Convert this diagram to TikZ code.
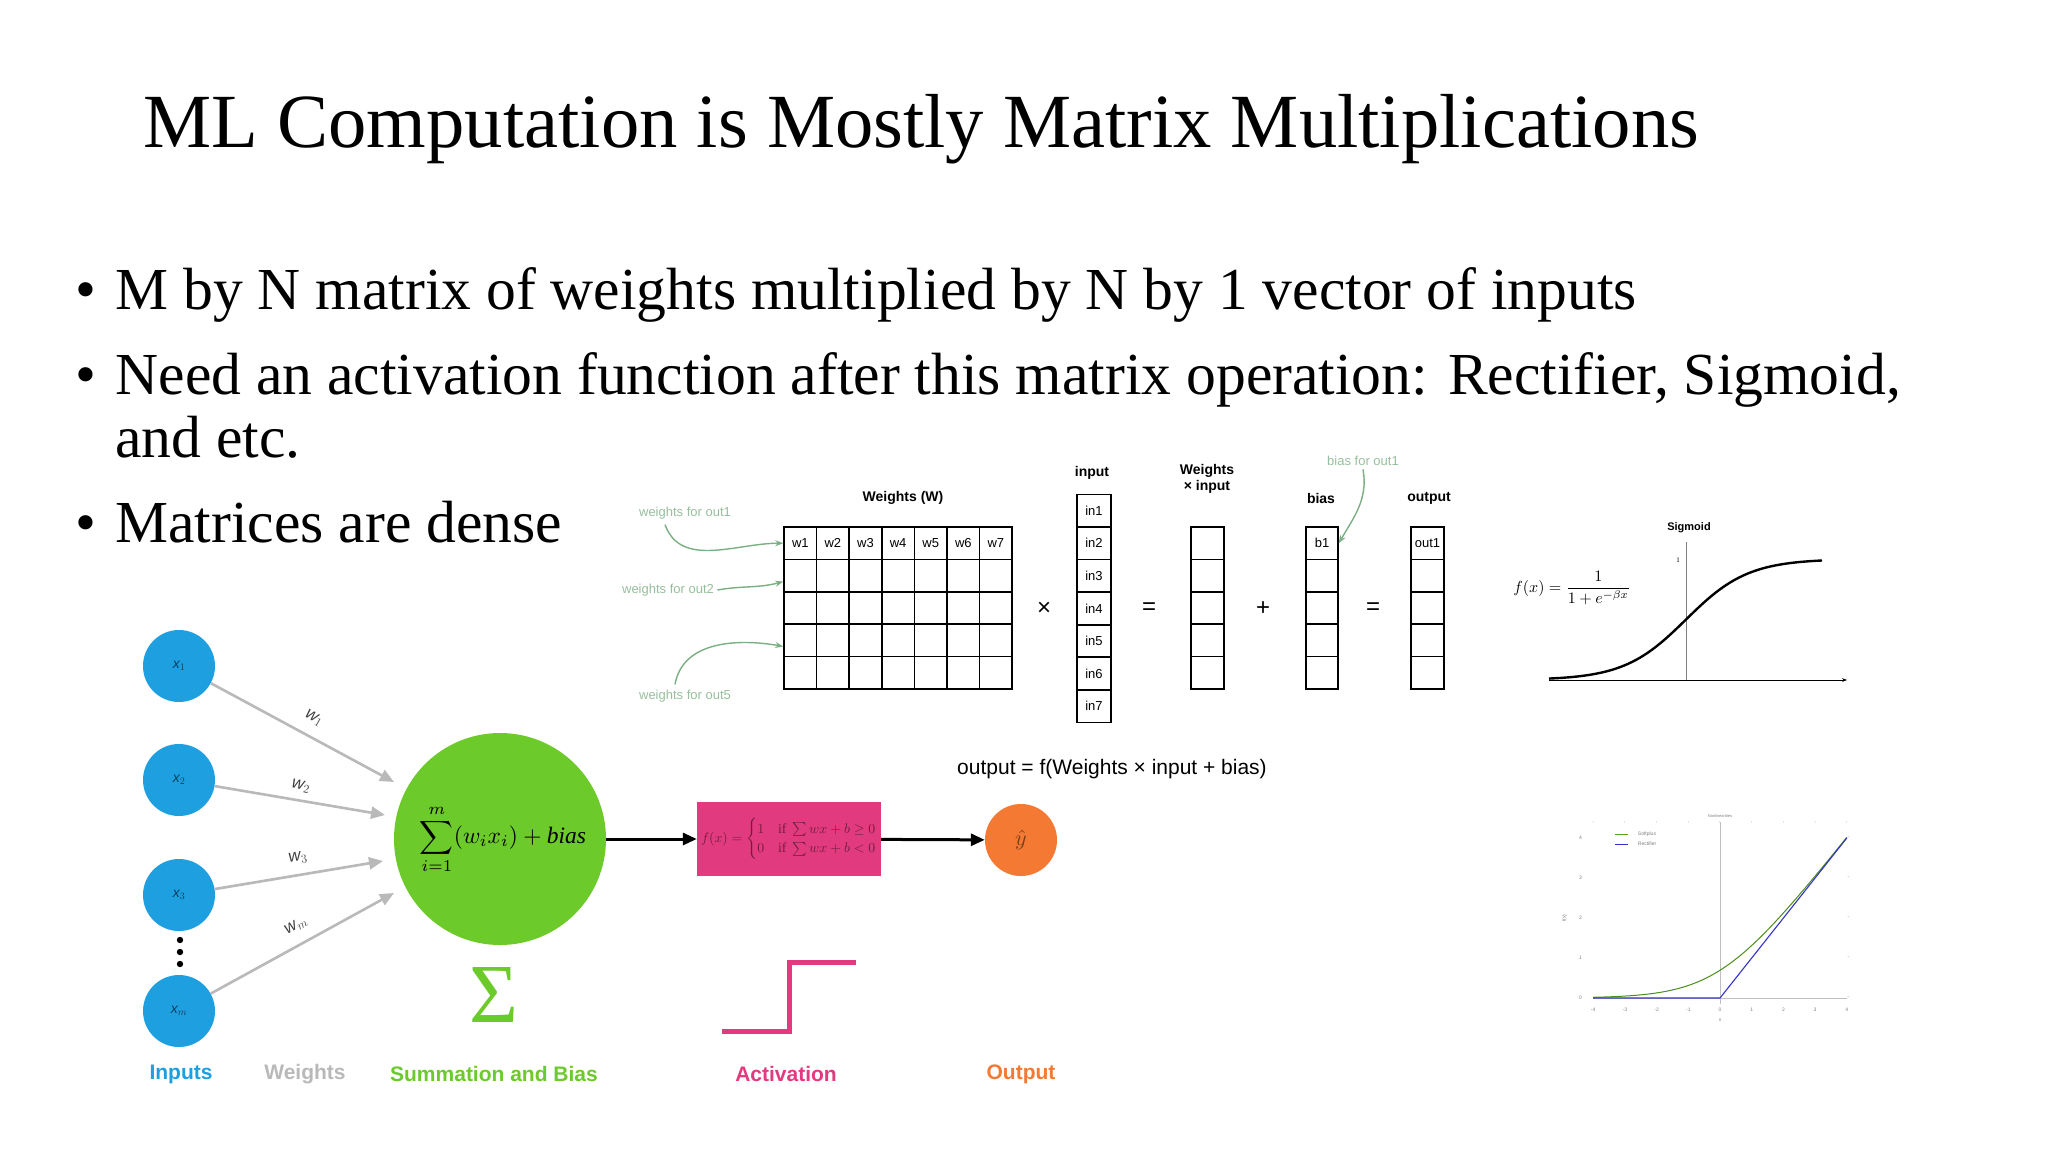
\documentclass[tikz,border=0pt]{standalone}
\usepackage{amsmath}
\usepackage{fontspec}
\setmainfont{Liberation Serif}
\setsansfont{Liberation Sans}
\usetikzlibrary{arrows.meta}
\definecolor{cblue}{HTML}{1E9FE0}
\definecolor{cgreen}{HTML}{6CCB2B}
\definecolor{corange}{HTML}{F47A34}
\definecolor{cpink}{HTML}{E23A7E}
\definecolor{cannot}{HTML}{7DAF85}
\tikzset{
  cell/.style={draw=black,line width=1.6pt,minimum width=#1,minimum height=32.4pt,inner sep=0pt,font=\sffamily\fontsize{13}{13}\selectfont},
  hdr/.style={font=\sffamily\bfseries\fontsize{14}{16}\selectfont,align=center},
  annot/.style={font=\sffamily\fontsize{13}{13}\selectfont,text=cannot!80},
  annarrow/.style={draw=cannot,line width=1.4pt,-{Stealth[length=8pt]}},
  op/.style={font=\sffamily\fontsize{24}{24}\selectfont},
  inp/.style={circle,fill=cblue,minimum size=72pt,inner sep=0pt,font=\sffamily\itshape\fontsize{14}{14}\selectfont,text=cblue!40!black},
  warrow/.style={draw=gray!55,line width=2.6pt,-{Triangle[length=14pt,width=12pt]}},
  barrow/.style={draw=black,line width=3pt,-{Triangle[length=14pt,width=12pt]}},
  wlab/.style={font=\sffamily\itshape\fontsize{17}{17}\selectfont,text=black!75},
  bottom/.style={font=\sffamily\bfseries\fontsize{21}{21}\selectfont},
  tick/.style={font=\sffamily\fontsize{5}{5}\selectfont,text=gray},
}
\begin{document}
\begin{tikzpicture}[x=1pt,y=-1pt]
\useasboundingbox[fill=white] (0,0) rectangle (2048,1152);
% title and bullets
\node[anchor=base west,font=\fontsize{76.6}{80}\selectfont] (title) at (140,147) {ML Computation is Mostly Matrix Multiplications};
\begin{scope}[every node/.style={anchor=base west,font=\fontsize{59.6}{60}\selectfont}]
\node (b1d) at (72,309) {•}; \node (b1) at (112,309) {M by N matrix of weights multiplied by N by 1 vector of inputs};
\node (b2d) at (72,394) {•}; \node (b2) at (112,394) {Need an activation function after this matrix operation: Rectifier, Sigmoid,};
\node (b2b) at (112,457) {and etc.};
\node (b3d) at (72,542) {•}; \node (b3) at (112,542) {Matrices are dense};
\end{scope}
% weights matrix
\foreach \r in {0,...,4}{\foreach \c in {0,...,6}{
  \node[cell=32.6pt] (w\r\c) at ({800.3+32.6*\c},{543.2+32.4*\r}) {};}}
\foreach \c [evaluate=\c as \n using int(\c+1)] in {0,...,6}{\node[font=\sffamily\fontsize{13}{13}\selectfont] at (w0\c) {w\n};}
\node[hdr] (wlabel) at (903,498) {Weights (W)};
\node[annot] (a1) at (685,513) {weights for out1};
\node[annot] (a2) at (668,590) {weights for out2};
\node[annot] (a5) at (685,696) {weights for out5};
\draw[annarrow] (a1.south) ++(-20,2) to[out=-70,in=180] (w00.west);
\draw[annarrow] (a2.east) to[out=10,in=195] ([yshift=-6pt]w10.west);
\draw[annarrow] (a5.north) ++(-10,-2) to[out=80,in=170] ([yshift=-6pt]w30.west);
\node[op] (times) at (1044,609) {×};
% input column
\foreach \i in {1,...,7}{\node[cell=34pt] (in\i) at (1094,{478+32.6*\i}) {in\i};}
\node[hdr] (inlabel) at (1092,473) {input};
\node[op] (eq1) at (1149,609) {=};
\foreach \i in {0,...,4}{\node[cell=33pt] (wi\i) at (1207.5,{543.2+32.4*\i}) {};}
\node[hdr] (wilabel) at (1207,479) {Weights\\× input};
\node[op] (plus) at (1263,609) {+};
\foreach \i in {0,...,4}{\node[cell=32pt] (bb\i) at (1322,{543.2+32.4*\i}) {};}
\node[font=\sffamily\fontsize{13}{13}\selectfont] at (bb0) {b1};
\node[hdr] (blabel) at (1321,498) {bias};
\node[annot] (ab) at (1363,461) {bias for out1};
\draw[annarrow] (ab.south) to[out=-80,in=60] (bb0.east);
\node[op] (eq2) at (1373,609) {=};
\foreach \i in {0,...,4}{\node[cell=33pt] (oo\i) at (1427.5,{543.2+32.4*\i}) {};}
\node[font=\sffamily\fontsize{13}{13}\selectfont] at (oo0) {out1};
\node[hdr] (olabel) at (1429,498) {output};
\node[font=\sffamily\fontsize{21}{21}\selectfont] (oeq) at (1112,769) {output = f(Weights × input + bias)};
% sigmoid plot
\node[font=\sffamily\bfseries\fontsize{11}{11}\selectfont] (sigt) at (1689,528) {Sigmoid};
\draw[line width=1pt,-{Stealth[length=5pt]}] (1549,680) -- (1847,680);
\draw[line width=1pt,gray] (1686,542) -- (1686,680);
\node[font=\fontsize{7}{7}\selectfont] at (1678,560) {1};
\draw[line width=2.4pt] plot[domain=-137:136,samples=70] ({1686+\x},{680-121/(1+exp(-\x/31))});
\node (sigf) at (1572,588) {\scalebox{1.6}{$f(x)=\dfrac{1}{1+e^{-\beta x}}$}};
% relu plot
\begin{scope}[shift={(1720,998)},x=31.7pt,y=40pt]
\draw[gray!50,line width=0.5pt] (0,-0.15) -- (0,4.4);
\draw[gray!50,line width=0.5pt] (-4,0) -- (4,0);
\foreach \t in {-4,...,4}{\node[tick] at (\t,-0.3) {\t}; \node[tick] at (\t,4.35) {'};}
\foreach \t in {0,...,4}{\node[tick] at (-4.4,\t) {\t}; \node[tick] at (4.05,\t) {-};}
\node[tick] at (0,-0.55) {x};
\node[tick,rotate=90] at (-4.9,2) {f(x)};
\node[font=\sffamily\fontsize{4}{4}\selectfont,text=gray] at (0,4.55) {Nonlinearities};
\draw[cgreen!80!black,line width=0.8pt] (-3.3,4.1) -- (-2.9,4.1);
\node[tick,anchor=west] at (-2.7,4.1) {Softplus};
\draw[blue!60!gray,line width=0.8pt] (-3.3,3.85) -- (-2.9,3.85);
\node[tick,anchor=west] at (-2.7,3.85) {Rectifier};
\draw[cgreen!70!black,line width=1pt] plot[domain=-4:4,samples=50] (\x,{ln(1+exp(\x))});
\draw[blue!60!gray,line width=1.1pt] (-4,0) -- (0,0) -- (4,4);
\end{scope}
% neuron
\node[inp] (x1) at (179,666) {x$_1$};
\node[inp] (x2) at (179,780) {x$_2$};
\node[inp] (x3) at (179,895) {x$_3$};
\node[inp] (xm) at (179,1011) {x$_m$};
\foreach \y in {940,952,964}{\fill (180,\y) circle (3.2pt);}
\node[circle,fill=cgreen,minimum size=212pt,inner sep=0pt] (sum) at (500,839) {};
\node (sumf) at (503,839) {\scalebox{2.35}{$\displaystyle\sum_{i=1}^{m}(w_ix_i)+\mathit{bias}$}};
\coordinate (e1) at (394,782); \coordinate (e2) at (385,815);
\coordinate (e3) at (383,861); \coordinate (e4) at (394,893);
\draw[warrow] (x1) -- (e1);
\draw[warrow] (x2) -- (e2);
\draw[warrow] (x3) -- (e3);
\draw[warrow] (xm) -- (e4);
\node[wlab,rotate=-30] (lw1) at (314,718) {w$_1$};
\node[wlab,rotate=-12] (lw2) at (301,786) {w$_2$};
\node[wlab,rotate=10] (lw3) at (298,858) {w$_3$};
\node[wlab,rotate=30] (lwm) at (296,926) {w$_m$};
\node[fill=cpink,minimum width=184pt,minimum height=74pt,inner sep=0pt] (act) at (789,839) {};
\node[text=cpink!50!black] (actf) at (789,839) {\scalebox{1.38}{$f(x)=\begin{cases}1 & \text{if } \sum wx+b\ge 0\\ 0 & \text{if } \sum wx+b<0\end{cases}$}};
\node[circle,fill=corange,minimum size=72pt,inner sep=0pt,text=corange!50!black] (yh) at (1021,840) {\scalebox{2.2}{$\hat y$}};
\draw[barrow] (sum) -- (act);
\draw[barrow] (act) -- (yh);
\node[text=cgreen,font=\fontsize{84}{84}\selectfont] (sig) at (494,995) {Σ};
\draw[cpink,line width=5pt] (722,1031) -- (789,1031) -- (789,962) -- (856,962);
\node[bottom,text=cblue] (l1) at (181,1074) {Inputs};
\node[bottom,text=gray!55] (l2) at (305,1074) {Weights};
\node[bottom,text=cgreen] (l3) at (494,1074) {Summation and Bias};
\node[bottom,text=cpink] (l4) at (786,1074) {Activation};
\node[bottom,text=corange] (l5) at (1021,1074) {Output};
\end{tikzpicture}
\end{document}
